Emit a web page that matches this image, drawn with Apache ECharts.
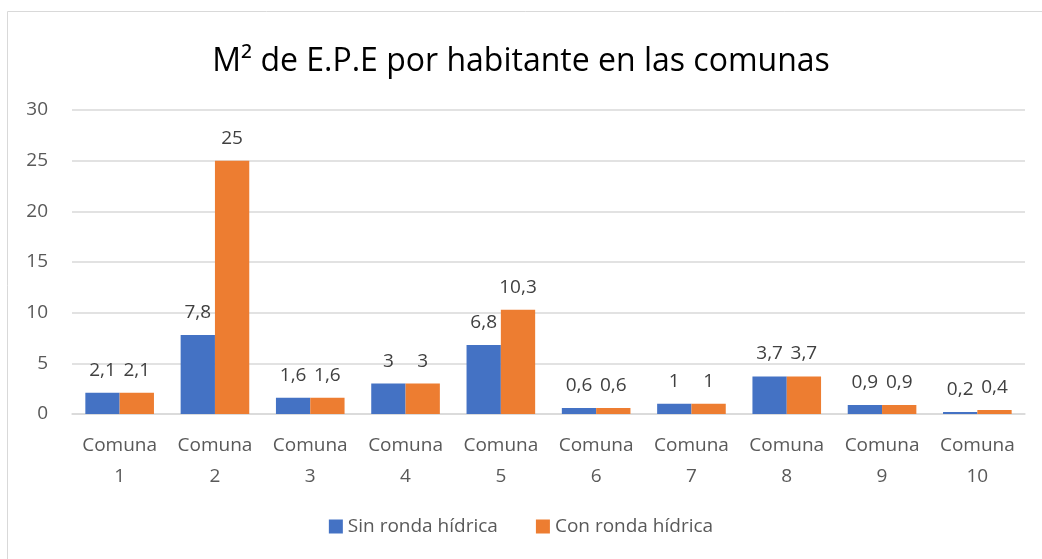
<!DOCTYPE html>
<html><head><meta charset="utf-8">
<script src="https://cdn.jsdelivr.net/npm/echarts@6/dist/echarts.min.js"></script>
<style>html,body{margin:0;padding:0;background:#fff}#c{width:1042px;height:559px}</style>
</head><body><div id="c"></div>
<script>
const categories = ['Comuna\n1','Comuna\n2','Comuna\n3','Comuna\n4','Comuna\n5','Comuna\n6','Comuna\n7','Comuna\n8','Comuna\n9','Comuna\n10'];
const sinRonda = [2.1, 7.8, 1.6, 3, 6.8, 0.6, 1, 3.7, 0.9, 0.2];
const conRonda = [2.1, 25, 1.6, 3, 10.3, 0.6, 1, 3.7, 0.9, 0.4];
const seriesNames = ['Sin ronda hídrica', 'Con ronda hídrica'];
const titleText = 'M² de E.P.E por habitante en las comunas';

const font = 'Open Sans';
const chart = echarts.init(document.getElementById('c'));
const lbl = {show:true, position:'top', distance:13, color:'#404040', fontSize:19, fontFamily:font,
  formatter: p => String(p.value).replace('.', ',')};
chart.setOption({
  animation:false,
  title:{text:titleText, left:'center', top:41, textStyle:{fontFamily:font, fontSize:32, fontWeight:'normal', color:'#000'}},
  graphic:[{type:'rect', shape:{x:7.5, y:11.5, width:1040, height:560}, style:{fill:'none', stroke:'#d9d9d9', lineWidth:1}}],
  legend:{bottom:18, left:'center', itemWidth:14, itemHeight:14, itemGap:38, icon:'rect',
    textStyle:{fontFamily:font, fontSize:19, color:'#595959'}, data:seriesNames},
  grid:{left:72, right:17, top:110, bottom:145},
  xAxis:{type:'category', data:categories,
    axisLine:{lineStyle:{color:'#d9d9d9', width:1.5}}, axisTick:{show:false},
    axisLabel:{interval:0, fontFamily:font, fontSize:19, color:'#595959', lineHeight:31, margin:16}},
  yAxis:{type:'value', min:0, max:30, interval:5,
    axisLine:{show:false}, axisTick:{show:false},
    splitLine:{lineStyle:{color:'#d9d9d9', width:1.5}},
    axisLabel:{fontFamily:font, fontSize:19, color:'#595959', margin:24}},
  series:[
    {name:seriesNames[0], type:'bar', data:sinRonda, itemStyle:{color:'#4472C4'}, barGap:'0%', barCategoryGap:'28%', label:lbl},
    {name:seriesNames[1], type:'bar', data:conRonda, itemStyle:{color:'#ED7D31'}, barGap:'0%', barCategoryGap:'28%', label:lbl}
  ]
});
</script></body></html>
